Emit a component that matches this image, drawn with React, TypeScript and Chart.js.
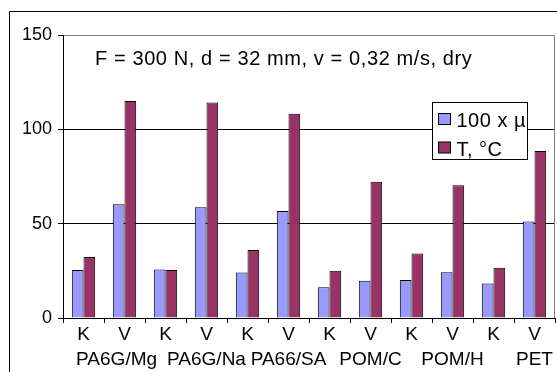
import React, { useEffect, useRef } from "react";
import { Chart, registerables } from "chart.js";

Chart.register(...registerables);

const categories: (string | string[])[] = [
  "K", ["V", "PA6G/Mg   "],
  "K", ["V", "PA6G/Na"],
  "K", ["V", "PA66/SA"],
  "K", ["V", "POM/C"],
  "K", ["V", "POM/H"],
  "K", ["V", "PET"],
];
const muValues = [25.4, 60.3, 25.7, 58.7, 24.1, 56.7, 16.3, 19.7, 20.2, 24.3, 18.3, 51.2];
const tempValues = [32.3, 115, 25.4, 114.2, 36, 108.3, 25, 72.2, 34.2, 70.4, 26.6, 88.5];
const seriesNames = ["100 x µ", "T, °C"];
const yTicks = [0, 50, 100, 150];
const annotation = "F = 300 N, d = 32 mm, v = 0,32 m/s, dry";

const FONT = "'Liberation Sans', Arial, sans-serif";
const BLUE = "#9999FF";
const RED = "#993366";

const decorPlugin = {
  id: "decor",
  beforeDraw(chart: any) {
    const ctx = chart.ctx;
    ctx.save();
    ctx.fillStyle = "#ffffff";
    ctx.fillRect(0, 0, chart.width, chart.height);
    ctx.strokeStyle = "#000";
    ctx.lineWidth = 1;
    ctx.beginPath();
    ctx.moveTo(9.5, chart.height);
    ctx.lineTo(9.5, 11.5);
    ctx.lineTo(chart.width, 11.5);
    ctx.stroke();
    ctx.restore();
  },
  afterDraw(chart: any) {
    const ctx = chart.ctx;
    const a = chart.chartArea;
    ctx.save();
    // right plot border
    ctx.strokeStyle = "#808080";
    ctx.lineWidth = 1;
    ctx.beginPath();
    ctx.moveTo(a.right - 0.5, a.top);
    ctx.lineTo(a.right - 0.5, a.bottom);
    ctx.stroke();
    // annotation
    ctx.fillStyle = "#000";
    ctx.font = `20px ${FONT}`;
    (ctx as any).letterSpacing = "0.6px";
    ctx.textBaseline = "alphabetic";
    ctx.textAlign = "left";
    ctx.fillText(annotation, a.left + 32, a.top + 30);
    // legend
    const lx = 432.5, ly = 102.5, lw = 95, lh = 57;
    (ctx as any).letterSpacing = "0px";
    ctx.fillStyle = "#fff";
    ctx.fillRect(lx, ly, lw, lh);
    ctx.strokeStyle = "#000";
    ctx.strokeRect(lx, ly, lw, lh);
    const colors = [BLUE, RED];
    seriesNames.forEach((name, i) => {
      const cy = ly + 17 + i * 28.5;
      ctx.fillStyle = colors[i];
      ctx.fillRect(lx + 6, cy - 6, 12, 11);
      ctx.strokeStyle = "#000";
      ctx.strokeRect(lx + 6, cy - 6, 12, 11);
      ctx.fillStyle = "#000";
      ctx.font = `20px ${FONT}`;
      (ctx as any).letterSpacing = "0.5px";
      ctx.textBaseline = "alphabetic";
      ctx.fillText(name, lx + 24, cy + 7.5);
      (ctx as any).letterSpacing = "0px";
    });
    ctx.restore();
  },
};

export default function App() {
  const ref = useRef<HTMLCanvasElement>(null);
  useEffect(() => {
    document.body.style.margin = "0";
    const chart = new Chart(ref.current!, {
      type: "bar",
      data: {
        labels: categories,
        datasets: [
          {
            label: seriesNames[0],
            data: muValues,
            backgroundColor: BLUE,
            borderColor: "#000",
            borderWidth: 1,
            categoryPercentage: 0.57,
            barPercentage: 1,
          },
          {
            label: seriesNames[1],
            data: tempValues,
            backgroundColor: RED,
            borderColor: "#000",
            borderWidth: 1,
            categoryPercentage: 0.57,
            barPercentage: 1,
          },
        ],
      },
      options: {
        animation: false,
        responsive: false,
        maintainAspectRatio: false,
        layout: { padding: { left: 0, top: 35, right: 2, bottom: 0 } },
        plugins: {
          legend: { display: false },
          tooltip: { enabled: false },
        },
        scales: {
          x: {
            grid: {
              offset: true,
              drawOnChartArea: false,
              tickLength: 5,
              color: "#000",
              tickColor: "#000",
            },
            border: { color: "#000", width: 1 },
            ticks: {
              color: "#000",
              font: { family: FONT, size: 19, lineHeight: 1.28 },
              padding: 0,
              maxRotation: 0,
              autoSkip: false,
            },
            afterFit(scale: any) {
              scale.height = 54;
            },
          },
          y: {
            min: 0,
            max: 150,
            afterBuildTicks(scale: any) {
              scale.ticks = yTicks.map((v) => ({ value: v }));
            },
            grid: {
              color: (c: any) => (c.tick && c.tick.value === 150 ? "#808080" : "#000"),
              tickColor: "#000",
              tickLength: 5,
            },
            border: { color: "#000", width: 1 },
            ticks: {
              color: "#000",
              font: { family: FONT, size: 18 },
              padding: 6,
            },
            afterFit(scale: any) {
              scale.width = 63;
            },
          },
        },
      },
      plugins: [decorPlugin],
    });
    return () => chart.destroy();
  }, []);
  return (
    <div style={{ position: "absolute", left: 0, top: 0, width: 557, height: 372 }}>
      <canvas ref={ref} width={557} height={372} style={{ width: 557, height: 372 }} />
    </div>
  );
}
